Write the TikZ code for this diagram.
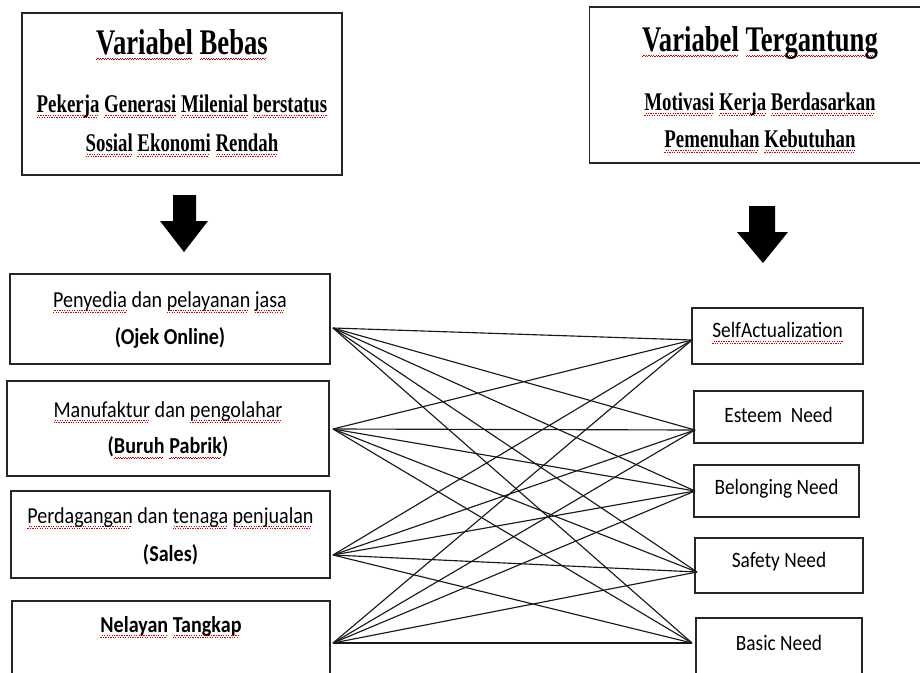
\documentclass[tikz,border=0pt]{standalone}
\usepackage{fontspec}
\usepackage{xcolor}
\usetikzlibrary{positioning}
\setmainfont[FakeStretch=0.88]{Carlito}
\newfontfamily\headfont[FakeStretch=0.74]{Liberation Serif}
\newsavebox\spellbox
% red wavy spell-check line under a word
\newcommand\wavebit{\hbox{\vrule width0.7pt height0pt depth0.45pt\raise0.45pt\hbox{\vrule width0.7pt height0.45pt depth0pt}}}
\newcommand\spell[1]{\sbox\spellbox{#1}\rlap{\lower2.6pt\hbox to\wd\spellbox{\color{red!80!black}\leaders\wavebit\hfil}}\usebox\spellbox}
\tikzset{
  varbox/.style={draw=black!85, line width=0.8pt, fill=white, inner sep=0pt},
  groupbox/.style={draw=black!85, line width=0.8pt, inner sep=0pt},
  needbox/.style={draw=black!85, line width=0.8pt, inner sep=0pt},
  headtext/.style={font=\headfont\bfseries\fontsize{20.5}{24}\selectfont},
  subtext/.style={font=\headfont\bfseries\fontsize{14.5}{17}\selectfont},
  grouptext/.style={font=\fontsize{13}{15}\selectfont},
  groupbold/.style={font=\bfseries\fontsize{13}{15}\selectfont},
  needtext/.style={font=\fontsize{12.5}{14}\selectfont},
  link/.style={draw=black!90, line width=0.65pt}
}
\begin{document}
\begin{tikzpicture}[x=0.02cm, y=-0.02cm]
  \useasboundingbox (0,0) rectangle (920,673);
  % top boxes
  \node[varbox, minimum width=6.4cm, minimum height=3.24cm] (bebas) at (182,94) {};
  \node[headtext] (bebas-t) at (182,45) {\spell{Variabel} \spell{Bebas}};
  \node[subtext] (bebas-a) at (182,106) {\spell{Pekerja} \spell{Generasi} \spell{Milenial} \spell{berstatus}};
  \node[subtext] (bebas-b) at (182,145) {\spell{Sosial} \spell{Ekonomi} \spell{Rendah}};
  \node[varbox, minimum width=6.7cm, minimum height=3.12cm] (tergantung) at (757,85) {};
  \node[headtext] (tergantung-t) at (760,43) {\spell{Variabel} \spell{Tergantung}};
  \node[subtext] (tergantung-a) at (760,104) {\spell{Motivasi} \spell{Kerja} \spell{Berdasarkan}};
  \node[subtext] (tergantung-b) at (760,141) {\spell{Pemenuhan} \spell{Kebutuhan}};
  % block arrows
  \fill (173,195) -- (196,195) -- (196,221) -- (208,221) -- (184,252) -- (160,221) -- (173,221) -- cycle;
  \fill (749,206) -- (775,206) -- (775,232) -- (788,232) -- (763,263) -- (737,232) -- (749,232) -- cycle;
  % left groups
  \node[groupbox, minimum width=6.4cm, minimum height=1.8cm] (jasa) at (170,319) {};
  \node[grouptext] at (170,302) {\spell{Penyedia} dan \spell{pelayanan} \spell{jasa}};
  \node[groupbold] at (170,338) {(Ojek Online)};
  \node[groupbox, minimum width=6.44cm, minimum height=1.9cm] (pabrik) at (168,428.5) {};
  \node[grouptext] at (168,412) {\spell{Manufaktur} dan \spell{pengolahar}};
  \node[groupbold] at (168,448) {(\spell{Buruh} \spell{Pabrik})};
  \node[groupbox, minimum width=6.38cm, minimum height=1.74cm] (sales) at (170.5,534.5) {};
  \node[grouptext] at (170.5,518) {\spell{Perdagangan} dan \spell{tenaga} \spell{penjualan}};
  \node[groupbold] at (170.5,555) {(Sales)};
  \node[groupbox, minimum width=6.36cm, minimum height=1.6cm] (nelayan) at (171,641) {};
  \node[groupbold] at (171,627) {\spell{Nelayan} \spell{Tangkap}};
  % right needs
  \node[needbox, minimum width=3.42cm, minimum height=1.12cm] (self) at (777.5,336) {};
  \node[needtext] at (777.5,333) {\spell{SelfActualization}};
  \node[needbox, minimum width=3.38cm, minimum height=1.04cm] (esteem) at (778.5,417) {};
  \node[needtext] at (778.5,415) {Esteem\ \ Need};
  \node[needbox, minimum width=3.3cm, minimum height=1.04cm] (belonging) at (776.5,491) {};
  \node[needtext] at (776.5,489) {Belonging Need};
  \node[needbox, minimum width=3.36cm, minimum height=1.1cm] (safety) at (779,565.5) {};
  \node[needtext] at (779,562) {Safety\ Need};
  \node[needbox, minimum width=3.32cm, minimum height=1.24cm] (basic) at (779,649) {};
  \node[needtext] at (779,643) {Basic Need};
  % connector ends
  \coordinate (jasa-o) at (333,328);
  \coordinate (pabrik-o) at (333,429);
  \coordinate (sales-o) at (333,555);
  \coordinate (nelayan-o) at (333,643);
  \coordinate (self-i) at (692,340);
  \coordinate (esteem-i) at (695,430);
  \coordinate (belonging-i) at (695,491);
  \coordinate (safety-i) at (697,572);
  \coordinate (basic-i) at (692,643);
  \foreach \g in {jasa,pabrik,sales,nelayan}
    \foreach \n in {self,esteem,belonging,safety,basic}
      \draw[link] (\g-o) -- (\n-i);
\end{tikzpicture}
\end{document}
